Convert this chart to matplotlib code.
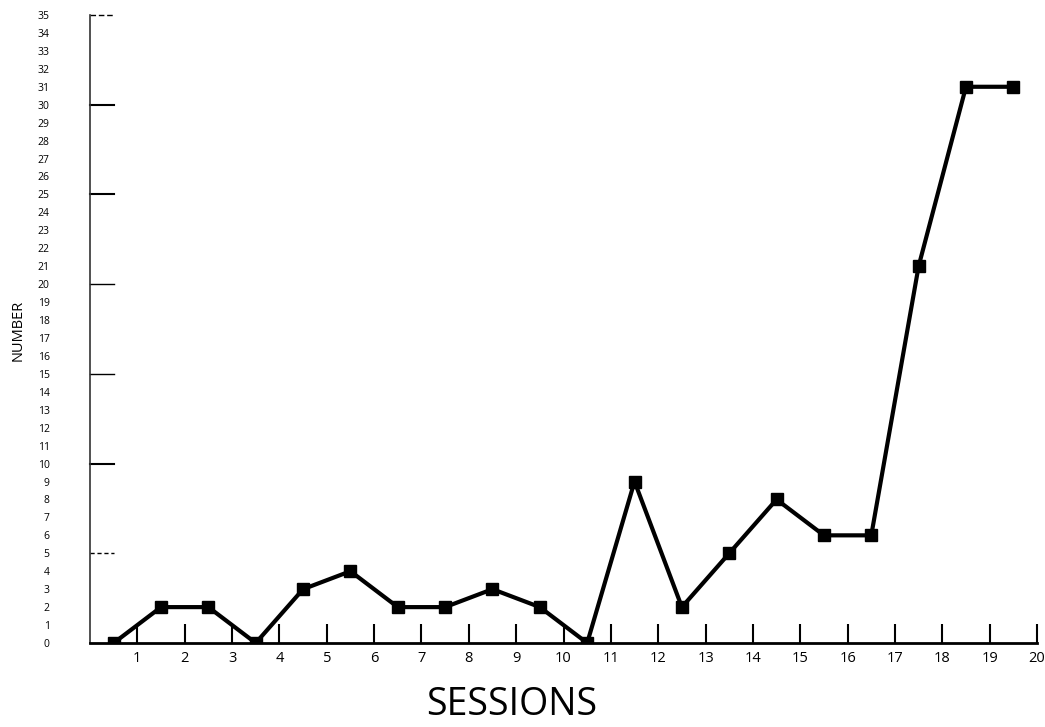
import matplotlib
matplotlib.use("Agg")
import matplotlib.pyplot as plt

sessions = [i + 0.5 for i in range(20)]
numbers = [0, 2, 2, 0, 3, 4, 2, 2, 3, 2, 0, 9, 2, 5, 8, 6, 6, 21, 31, 31]
x_tick_labels = [str(i) for i in range(1, 21)]
y_tick_labels = [str(i) for i in range(0, 36)]

plt.rcParams['font.family'] = ['Open Sans', 'DejaVu Sans']

fig = plt.figure(figsize=(10.45, 7.27), dpi=100)
ax = fig.add_axes([90/1045, 84/727, (1037-90)/1045, (643-15)/727])

ax.plot(sessions, numbers, color='black', lw=3, marker='s', ms=8, mfc='black', mec='black', zorder=3)

ax.set_xlim(0, 20)
ax.set_ylim(0, 35)
ax.spines['top'].set_visible(False)
ax.spines['right'].set_visible(False)
ax.spines['bottom'].set_linewidth(2)
ax.spines['left'].set_linewidth(1.2)
ax.spines['left'].set_color('#333333')

ax.set_xticks(range(1, 21))
ax.set_xticklabels(x_tick_labels, fontsize=10.5)
ax.tick_params(axis='x', direction='in', length=14, width=1.5, pad=6)

ax.set_yticks(range(0, 36))
ax.set_yticklabels(y_tick_labels, fontsize=7.5)
ax.tick_params(axis='y', direction='in', length=0, pad=29)
for v in [10, 15, 20, 25, 30]:
    ax.plot([0, 0.5], [v, v], color='black', lw=1.5 if v in (10, 25, 30) else 1.0, clip_on=False)
ax.plot([0, 0.5], [5, 5], color='black', lw=1.0, ls=(0, (3, 2)))
ax.plot([0, 0.5], [35, 35], color='black', lw=1.0, ls=(0, (4, 2)), clip_on=False)

fig.text(512/1045, 1 - 705/727, 'SESSIONS', fontsize=27, ha='center', va='center')
fig.text(18/1045, 1 - 330/727, 'NUMBER', rotation=90, fontsize=10.5, ha='center', va='center')

fig.savefig('out.png', dpi=100)
